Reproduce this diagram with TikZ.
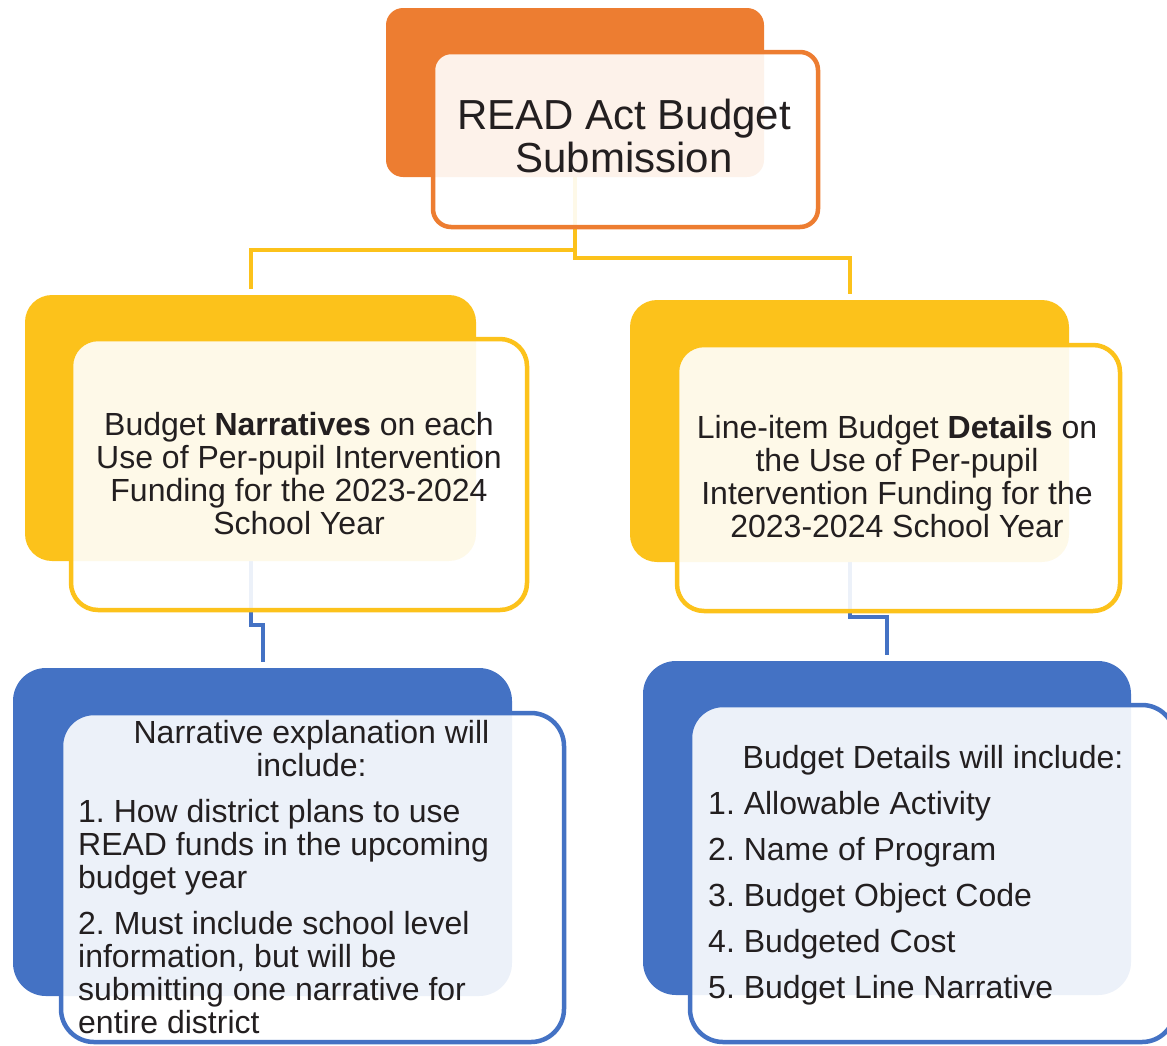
\documentclass[tikz,border=0pt]{standalone}
\usepackage{fontspec}
\setmainfont{Liberation Sans}
\usetikzlibrary{backgrounds}
\definecolor{accOrange}{HTML}{ED7D31}
\definecolor{accYellow}{HTML}{FCC21B}
\definecolor{accBlue}{HTML}{4472C4}
\definecolor{ink}{HTML}{231F20}
\frenchspacing
\begin{document}
\begin{tikzpicture}[x=1pt,y=-1pt,
  back/.style={rectangle, inner sep=0pt, outer sep=0pt, draw=none},
  frame/.style={rectangle, inner sep=0pt, outer sep=0pt, fill=white,
    fill opacity=0.9, line width=4.5pt},
  link/.style={line width=4pt, shorten >=6pt},
  txt/.style={inner sep=0pt, text=ink, font=\fontsize{32}{33}\selectfont},
  title/.style={inner sep=0pt, text=ink, font=\fontsize{42}{43}\selectfont},
  line/.style={txt, anchor=base},
  item/.style={txt, anchor=base west}]
\clip (0,0) rectangle (1167,1045);

% back plates
\node[back, fill=accOrange, rounded corners=17pt, minimum width=378pt, minimum height=169pt] (tb) at (575,92.5) {};
\node[back, fill=accYellow, rounded corners=27pt, minimum width=451pt, minimum height=266pt] (lyb) at (250.5,428) {};
\node[back, fill=accYellow, rounded corners=27pt, minimum width=439pt, minimum height=262pt] (ryb) at (849.5,431) {};
\node[back, fill=accBlue, rounded corners=33pt, minimum width=499pt, minimum height=328pt] (lbb) at (262.5,832) {};
\node[back, fill=accBlue, rounded corners=33pt, minimum width=488pt, minimum height=334pt] (rbb) at (887,828) {};

% elbow connectors, lying under the plates
\coordinate (ly) at (0,250);
\coordinate (ry) at (0,258);
\coordinate (lb) at (0,625);
\coordinate (rb) at (0,617);
\begin{scope}[on background layer]
\draw[link, accYellow] (tb.center) -- (tb.center |- ly) -| (lyb.north);
\draw[link, accYellow] (tb.center) -- (tb.center |- ry) -| (ryb.north);
\draw[link, accBlue] (lyb.center) -- (lyb.center |- lb) -| (lbb.north);
\draw[link, accBlue] (ryb.center) -- (ryb.center |- rb) -| (rbb.north);
\end{scope}

% framed text panels
\node[frame, draw=accOrange, rounded corners=18pt, minimum width=385pt, minimum height=175pt] (tf) at (625.5,139.5) {};
\node[frame, draw=accYellow, rounded corners=27pt, minimum width=456pt, minimum height=271pt] (lyf) at (299,474.5) {};
\node[frame, draw=accYellow, rounded corners=27pt, minimum width=443pt, minimum height=266pt] (ryf) at (898.5,478) {};
\node[frame, draw=accBlue, rounded corners=33pt, minimum width=503pt, minimum height=329pt] (lbf) at (312.5,877.5) {};
\node[frame, draw=accBlue, rounded corners=33pt, minimum width=485pt, minimum height=337pt] (rbf) at (932.5,873.5) {};

% title
\node[title, anchor=base] (t1) at (624,129) {READ Act Budget};
\node[title, anchor=base] (t2) at (624,172) {Submission};

% left yellow panel
\node[line] (ly1) at (299,435) {Budget \textbf{Narratives} on each};
\node[line] (ly2) at (299,468) {Use of Per-pupil Intervention};
\node[line] (ly3) at (299,501) {Funding for the 2023-2024};
\node[line] (ly4) at (299,534) {School Year};

% right yellow panel
\node[line] (ry1) at (897,438) {Line-item Budget \textbf{Details} on};
\node[line] (ry2) at (897,471) {the Use of Per-pupil};
\node[line] (ry3) at (897,504) {Intervention Funding for the};
\node[line] (ry4) at (897,537) {2023-2024 School Year};

% left blue panel
\node[line] (lb1) at (311.5,743) {Narrative explanation will};
\node[line] (lb2) at (311.5,776) {include:};
\node[item] (lb3) at (78,822) {1. How district plans to use};
\node[item] (lb4) at (78,855) {READ funds in the upcoming};
\node[item] (lb5) at (78,888) {budget year};
\node[item] (lb6) at (78,934) {2. Must include school level};
\node[item] (lb7) at (78,967) {information, but will be};
\node[item] (lb8) at (78,1000) {submitting one narrative for};
\node[item] (lb9) at (78,1033) {entire district};

% right blue panel
\node[line] (rb1) at (933,768) {Budget Details will include:};
\node[item] (rb2) at (708,814) {1. Allowable Activity};
\node[item] (rb3) at (708,860) {2. Name of Program};
\node[item] (rb4) at (708,906) {3. Budget Object Code};
\node[item] (rb5) at (708,952) {4. Budgeted Cost};
\node[item] (rb6) at (708,998) {5. Budget Line Narrative};
\end{tikzpicture}
\end{document}
